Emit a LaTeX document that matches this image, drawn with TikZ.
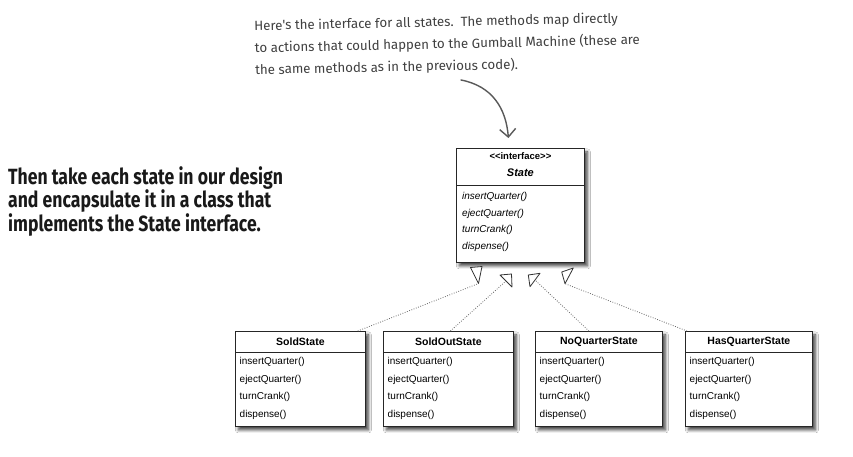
\documentclass[tikz,border=0pt]{standalone}
\usepackage{fontspec}
\setmainfont{Liberation Sans}
\newfontfamily\notefont{Fira Sans}
\newfontfamily\leadfont[FakeStretch=0.8]{Fira Sans}
\usetikzlibrary{arrows.meta,shadows.blur}
\begin{document}
\begin{tikzpicture}[x=1pt,y=-1pt,
  umlbox/.style={draw=black!85, line width=0.8pt, fill=white, inner sep=0pt, anchor=north west,
    blur shadow={shadow xshift=3pt, shadow yshift=-3.5pt, shadow blur steps=8, shadow blur radius=3pt, shadow opacity=75}},
  umlline/.style={draw=black!85, line width=0.8pt},
  hdr/.style={font=\bfseries\fontsize{10.5}{12}\selectfont, inner sep=0pt},
  stereo/.style={font=\bfseries\fontsize{9.5}{10}\selectfont, inner sep=0pt},
  ititle/.style={font=\bfseries\itshape\fontsize{11}{12}\selectfont, inner sep=0pt},
  meth/.style={font=\fontsize{10}{11}\selectfont, anchor=west, inner sep=0pt},
  imeth/.style={font=\itshape\fontsize{10}{11}\selectfont, anchor=west, inner sep=0pt},
  realize/.style={draw=black!60, line width=0.8pt, dash pattern=on 0.8pt off 1.6pt},
  tri/.style={draw=black!80, line width=0.8pt, fill=white, line join=round},
  notetext/.style={font=\notefont\fontsize{13.3}{22}\selectfont, text=black!75, align=left, inner sep=0pt},
  leadtext/.style={font=\leadfont\bfseries\fontsize{22}{23.5}\selectfont, text=black!90, align=left, inner sep=0pt},
  notearrow/.style={draw=black!65, line width=1.4pt, line cap=round, -{Straight Barb[length=8pt,width=16pt,line width=1.4pt]}}
]
\useasboundingbox (0,0) rectangle (853,457);
\fill[white] (0,0) rectangle (853,457);

% interface box
\node[umlbox, minimum width=128pt, minimum height=114pt] (state) at (456,148) {};
\draw[umlline] ([yshift=-37pt]state.north west) -- ([yshift=-37pt]state.north east);
\node[stereo] (stereo) at ([yshift=-8.5pt]state.north) {<{}<interface>{}>};
\node[ititle] (stitle) at ([yshift=-25pt]state.north) {State};
\node[imeth] (sm1) at ([xshift=6pt,yshift=-49pt]state.north west) {insertQuarter()};
\node[imeth] (sm2) at ([xshift=6pt,yshift=-65.5pt]state.north west) {ejectQuarter()};
\node[imeth] (sm3) at ([xshift=6pt,yshift=-82pt]state.north west) {turnCrank()};
\node[imeth] (sm4) at ([xshift=6pt,yshift=-99pt]state.north west) {dispense()};

% concrete state boxes
\foreach \nm/\x/\w/\ttl in {sold/235/130/SoldState, soldout/383/130/SoldOutState, noq/535/127/NoQuarterState, hasq/685/127/HasQuarterState}{
  \node[umlbox, minimum width=\w pt, minimum height=95pt] (\nm) at (\x,331) {};
  \draw[umlline] ([yshift=-21pt]\nm.north west) -- ([yshift=-21pt]\nm.north east);
  \node[hdr] (\nm-t) at ([yshift=-10.5pt]\nm.north) {\ttl};
  \node[meth] (\nm-m1) at ([xshift=4.5pt,yshift=-31pt]\nm.north west) {insertQuarter()};
  \node[meth] (\nm-m2) at ([xshift=4.5pt,yshift=-48.5pt]\nm.north west) {ejectQuarter()};
  \node[meth] (\nm-m3) at ([xshift=4.5pt,yshift=-66pt]\nm.north west) {turnCrank()};
  \node[meth] (\nm-m4) at ([xshift=4.5pt,yshift=-83.5pt]\nm.north west) {dispense()};
}

% realization connectors
\coordinate (e1) at (478.5,283.5);
\coordinate (e2) at (506,281);
\coordinate (e3) at (535,280);
\coordinate (e4) at (565,283.7);
\draw[realize] ([xshift=-8pt]sold.north east) -- (e1);
\draw[realize] ([xshift=2pt]soldout.north) -- (e2);
\draw[realize] ([xshift=-10pt]noq.north) -- (e3);
\draw[realize] ([xshift=2pt]hasq.north west) -- (e4);
\draw[tri] (470.5,267.5) -- (482,266.5) -- (478.5,283.5) -- cycle;
\draw[tri] (500,275) -- (511.5,274) -- (512,287) -- cycle;
\draw[tri] (528.3,275) -- (540,273.3) -- (530,286.7) -- cycle;
\draw[tri] (561.7,272) -- (573.3,268) -- (565,283.7) -- cycle;

% annotation
\node[notetext, anchor=north west, rotate=1.2] (note) at (254,20) {Here's the interface for all states.\ \ The methods map directly\\to actions that could happen to the Gumball Machine (these are\\the same methods as in the previous code).};
\coordinate (arrstart) at (461,80);
\draw[notearrow] (arrstart) .. controls (492,86) and (506,108) .. ([xshift=-12pt,yshift=10pt]state.north);

% lead text
\node[leadtext, anchor=north west] (lead) at (8,166) {Then take each state in our design\\and encapsulate it in a class that\\implements the State interface.};
\end{tikzpicture}
\end{document}
